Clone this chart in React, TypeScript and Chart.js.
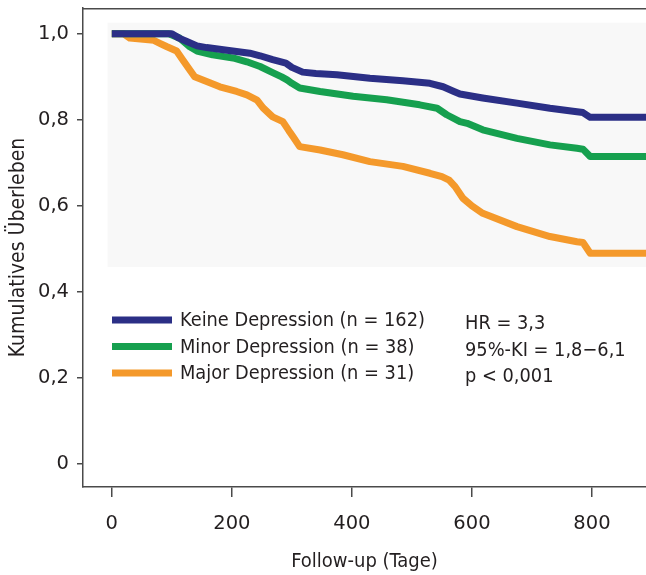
import React, { useEffect, useRef } from "react";
import { Chart, registerables } from "chart.js";

Chart.register(...registerables);

// ---- Data ----
const keineDays = [0, 100, 112, 125, 142, 158, 192, 230, 247, 268, 290, 300, 318, 340, 375, 430, 485, 530, 552, 570, 580, 618, 675, 730, 775, 785, 797, 890];
const keineSurv = [1.0, 1.0, 0.99, 0.982, 0.972, 0.968, 0.962, 0.955, 0.949, 0.94, 0.932, 0.922, 0.911, 0.908, 0.905, 0.897, 0.891, 0.885, 0.877, 0.866, 0.86, 0.851, 0.839, 0.827, 0.819, 0.817, 0.806, 0.806];

const minorDays = [0, 95, 113, 130, 142, 168, 202, 225, 247, 268, 283, 292, 300, 313, 347, 402, 458, 513, 542, 558, 580, 592, 618, 675, 730, 775, 785, 797, 890];
const minorSurv = [1.0, 1.0, 0.99, 0.97, 0.96, 0.951, 0.944, 0.935, 0.924, 0.91, 0.9, 0.893, 0.885, 0.874, 0.866, 0.855, 0.847, 0.835, 0.827, 0.812, 0.796, 0.792, 0.777, 0.757, 0.742, 0.734, 0.732, 0.715, 0.715];

const majorDays = [0, 20, 30, 70, 80, 92, 108, 118, 130, 138, 158, 180, 208, 225, 242, 252, 268, 285, 295, 302, 313, 347, 385, 430, 485, 530, 550, 562, 572, 585, 600, 618, 675, 730, 775, 785, 797, 890];
const majorSurv = [1.0, 1.0, 0.99, 0.985, 0.978, 0.97, 0.96, 0.94, 0.916, 0.9, 0.889, 0.877, 0.866, 0.858, 0.846, 0.828, 0.807, 0.796, 0.775, 0.761, 0.738, 0.73, 0.719, 0.703, 0.692, 0.676, 0.668, 0.66, 0.645, 0.618, 0.6, 0.583, 0.552, 0.529, 0.517, 0.515, 0.49, 0.49];

const seriesNames = ["Keine Depression (n = 162)", "Minor Depression (n = 38)", "Major Depression (n = 31)"];
const seriesColors = ["#2b2f86", "#16a04f", "#f4992b"];

const xTicks = [0, 200, 400, 600, 800];
const xTickLabels = ["0", "200", "400", "600", "800"];
const yTicks = [0, 0.2, 0.4, 0.6, 0.8, 1.0];
const yTickLabels = ["0", "0,2", "0,4", "0,6", "0,8", "1,0"];

const statsLines = ["HR = 3,3", "95%-KI = 1,8−6,1", "p < 0,001"];

const xTitle = "Follow-up (Tage)";
const yTitle = "Kumulatives Überleben";

const TEXT = "#231f20";
const AXIS = "#4a4a4a";
const CONDENSED = "'DejaVu Sans Condensed', 'DejaVu Sans', sans-serif";
const WIDE = "'DejaVu Sans', sans-serif";

const toPoints = (d: number[], s: number[]) => d.map((x, i) => ({ x, y: s[i] }));

const decorPlugin = {
  id: "decor",
  beforeDatasetsDraw(chart: any) {
    const { ctx, chartArea, scales } = chart;
    const x = scales.x, y = scales.y;
    const l = x.getPixelForValue(-7);
    const t = y.getPixelForValue(1.026);
    const b = y.getPixelForValue(0.458);
    ctx.save();
    ctx.fillStyle = "#f8f8f8";
    ctx.fillRect(l, t, chartArea.right - l, b - t);
    ctx.restore();
  },
  afterDraw(chart: any) {
    const { ctx, chartArea } = chart;
    ctx.save();
    // top frame line
    ctx.strokeStyle = AXIS;
    ctx.lineWidth = 1.5;
    ctx.beginPath();
    ctx.moveTo(chartArea.left, chartArea.top + 0.75);
    ctx.lineTo(chartArea.right, chartArea.top + 0.75);
    ctx.stroke();

    // legend
    const lx = chartArea.left + 29;
    const rowY0 = chartArea.top + 312;
    const rowH = 26.5;
    ctx.font = `19.8px ${CONDENSED}`;
    ctx.textBaseline = "middle";
    ctx.textAlign = "left";
    seriesNames.forEach((name, i) => {
      const yy = rowY0 + i * rowH;
      ctx.fillStyle = seriesColors[i];
      ctx.fillRect(lx, yy - 3.5, 60, 7);
      ctx.fillStyle = TEXT;
      ctx.fillText(name, lx + 68, yy + 1);
    });
    // stats
    statsLines.forEach((s, i) => {
      ctx.fillStyle = TEXT;
      ctx.fillText(s, chartArea.left + 382, rowY0 + 4 + i * rowH);
    });
    ctx.restore();
  },
};

export default function App() {
  const ref = useRef<HTMLCanvasElement | null>(null);
  useEffect(() => {
    document.body.style.margin = "0";
    if (!ref.current) return;
    const chart = new Chart(ref.current, {
      type: "line",
      data: {
        datasets: [
          { label: seriesNames[0], data: toPoints(keineDays, keineSurv), borderColor: seriesColors[0] },
          { label: seriesNames[1], data: toPoints(minorDays, minorSurv), borderColor: seriesColors[1] },
          { label: seriesNames[2], data: toPoints(majorDays, majorSurv), borderColor: seriesColors[2] },
        ].map((d) => ({
          ...d,
          borderWidth: 7,
          pointRadius: 0,
          fill: false,
          tension: 0,
          borderJoinStyle: "round" as const,
        })),
      },
      options: {
        responsive: false,
        animation: false,
        layout: { autoPadding: false, padding: { top: 8, right: 0, left: 0, bottom: 0 } },
        plugins: { legend: { display: false }, tooltip: { enabled: false } },
        scales: {
          x: {
            type: "linear",
            min: -48,
            max: 890,
            afterBuildTicks: (s: any) => {
              s.ticks = xTicks.map((v) => ({ value: v }));
            },
            afterFit: (s: any) => {
              s.height = 88;
              s.paddingLeft = 0;
              s.paddingRight = 0;
              s.paddingTop = 0;
              s.paddingBottom = 0;
            },
            ticks: {
              callback: (_v: any, i: number) => xTickLabels[i],
              font: { family: WIDE, size: 19.5 },
              color: TEXT,
              padding: 15,
              maxRotation: 0,
            },
            grid: { drawOnChartArea: false, tickLength: 10, color: AXIS, lineWidth: 1.5 },
            border: { color: AXIS, width: 1.5 },
            title: {
              display: true,
              text: xTitle,
              font: { family: CONDENSED, size: 20 },
              color: TEXT,
              padding: { top: 4, bottom: 1 },
            },
          },
          y: {
            type: "linear",
            min: -0.053,
            max: 1.06,
            afterBuildTicks: (s: any) => {
              s.ticks = yTicks.map((v) => ({ value: v }));
            },
            afterFit: (s: any) => {
              s.width = 83;
              s.paddingLeft = 0;
              s.paddingRight = 0;
              s.paddingTop = 0;
              s.paddingBottom = 0;
            },
            ticks: {
              callback: (_v: any, i: number) => yTickLabels[i],
              font: { family: WIDE, size: 19.5 },
              color: TEXT,
              padding: 8,
            },
            grid: { drawOnChartArea: false, tickLength: 6, color: AXIS, lineWidth: 1.5 },
            border: { color: AXIS, width: 1.5 },
            title: {
              display: true,
              text: yTitle,
              font: { family: CONDENSED, size: 21 },
              color: TEXT,
              padding: { top: 6, bottom: 4 },
            },
          },
        },
      },
      plugins: [decorPlugin],
    });
    return () => chart.destroy();
  }, []);
  return (
    <div style={{ width: 646, height: 575 }}>
      <canvas ref={ref} width={646} height={575} style={{ width: 646, height: 575, display: "block" }} />
    </div>
  );
}
